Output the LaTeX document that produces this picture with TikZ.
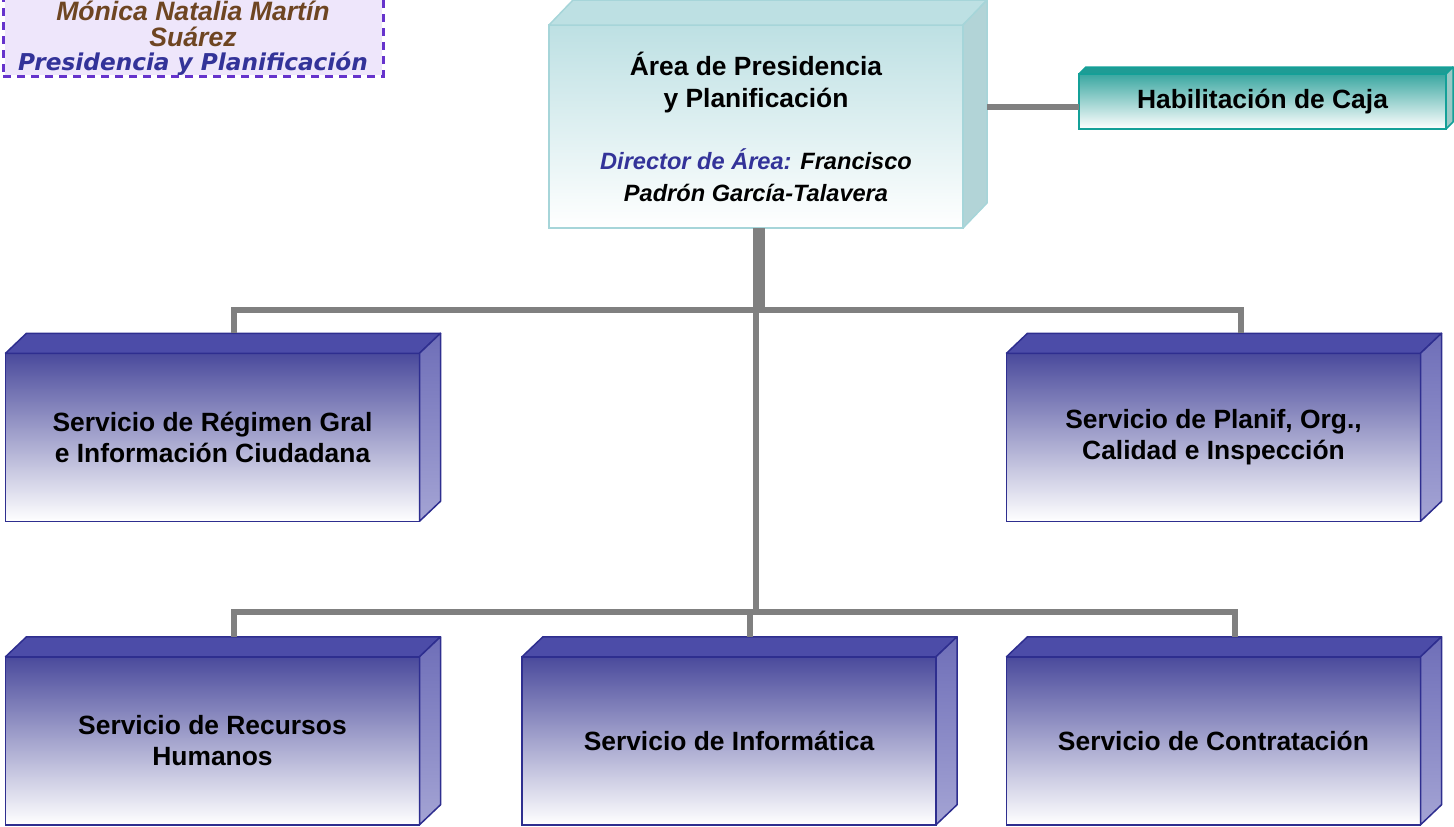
\documentclass[tikz,border=0pt]{standalone}
\usepackage{fontspec}
\setmainfont{Liberation Sans}
\newfontfamily\verdana{DejaVu Sans}
\usetikzlibrary{matrix,calc}
\definecolor{azulosc}{HTML}{4A4A9C}
\definecolor{azulbor}{HTML}{2E2E8F}
\definecolor{azultapa}{HTML}{4C4CA8}
\definecolor{azullado}{HTML}{6E6EB8}
\definecolor{azulclaro}{HTML}{A4A4D4}
\definecolor{turq}{HTML}{BDE0E3}
\definecolor{turqbor}{HTML}{A6D5D9}
\definecolor{turqlado}{HTML}{B2D4D7}
\definecolor{verde}{HTML}{3AA7A1}
\definecolor{verdebor}{HTML}{14A098}
\definecolor{verdetapa}{HTML}{1E9C95}
\definecolor{verdelado}{HTML}{9CC9C6}
\definecolor{gris}{HTML}{808080}
\definecolor{lila}{HTML}{EEE6FB}
\definecolor{morado}{HTML}{6633CC}
\definecolor{marron}{HTML}{6E4522}
\definecolor{azultxt}{HTML}{333399}
\newcommand{\caras}[4]{%
  \filldraw[#3] (#1.north west) -- ++(#2) -- ([shift={(#2)}]#1.north east) -- (#1.north east) -- cycle;
  \filldraw[#4] (#1.north east) -- ++(#2) -- ([shift={(#2)}]#1.south east) -- (#1.south east) -- cycle;}
\tikzset{
  servicio/.style={top color=azulosc, bottom color=white, draw=azulbor, line width=.75pt,
    minimum width=207pt, minimum height=84pt, inner sep=0pt, outer sep=0pt, align=center,
    font=\bfseries\fontsize{13.2}{15.5}\selectfont},
  tapaazul/.style={fill=azultapa, draw=azulbor, line width=.75pt, line join=round},
  ladoazul/.style={top color=azullado, bottom color=azulclaro, draw=azulbor, line width=.75pt, line join=round},
  alta/.style={top color=turq, bottom color=white, draw=turqbor, line width=.75pt,
    minimum width=207pt, minimum height=101.5pt, inner sep=0pt, outer sep=0pt, align=center,
    font=\bfseries\fontsize{13.2}{16}\selectfont},
  tapaturq/.style={fill=turq, draw=turqbor, line width=.75pt, line join=round},
  ladoturq/.style={fill=turqlado, draw=turqbor, line width=.75pt, line join=round},
  caja/.style={top color=verde, bottom color=white, draw=verdebor, line width=.75pt,
    minimum width=183.5pt, minimum height=27.5pt, inner sep=0pt, outer sep=0pt,
    font=\bfseries\fontsize{13.2}{16}\selectfont},
  tapaverde/.style={fill=verdetapa, draw=verdebor, line width=.75pt, line join=round},
  ladoverde/.style={fill=verdelado, draw=verdebor, line width=.75pt, line join=round},
  tarjeta/.style={fill=lila, draw=white, line width=1.5pt, postaction={draw=morado, dash pattern=on 4pt off 3pt},
    minimum width=190pt, inner xsep=0pt, inner ysep=0pt, outer sep=0pt, align=center,
    font=\bfseries\itshape\fontsize{13.3}{13.2}\selectfont},
  linea/.style={draw=gris, line width=3pt}
}
\begin{document}
\begin{tikzpicture}[x=0.5pt, y=-0.5pt]
\useasboundingbox (0,0) rectangle (1454,826);
\node [tarjeta, anchor=south] (tarjeta) at (193,76) {\rule{0pt}{30pt}\color{marron}Mónica Natalia Martín\\ \color{marron}Suárez\\[-1pt]
  \verdana\fontsize{11.6}{13}\selectfont\color{azultxt}Presidencia y Planificación};
\node [alta] (area) at (756,126.5) {Área de Presidencia\\ y Planificación\\[15pt]
  \itshape\fontsize{11.8}{13.5}\selectfont{\color{azultxt}Director de Área:} Francisco\\
  \itshape\fontsize{11.8}{13.5}\selectfont Padrón García-Talavera};
\node [caja] (caja) at (1262.5,101.5) {Habilitación de Caja};
\matrix [ampersand replacement=\&, column sep=34.5pt, row sep=67pt, inner sep=0pt] at (713,589) {
  \node [servicio] (S1) {Servicio de Régimen Gral\\ e Información Ciudadana}; \&[16pt] \& \node [servicio] (S2) {Servicio de Planif, Org.,\\ Calidad e Inspección}; \\
  \node [servicio] (S3) {Servicio de Recursos\\ Humanos}; \& \node [servicio] (S4) {Servicio de Informática}; \& \node [servicio] (S5) {Servicio de Contratación}; \\
};
\caras{area}{24,-25}{tapaturq}{ladoturq}
\caras{caja}{7,-7}{tapaverde}{ladoverde}
\caras{S1}{21,-20}{tapaazul}{ladoazul}
\caras{S2}{21,-20}{tapaazul}{ladoazul}
\caras{S3}{21,-20}{tapaazul}{ladoazul}
\caras{S4}{21,-20}{tapaazul}{ladoazul}
\caras{S5}{21,-20}{tapaazul}{ladoazul}
\draw [linea] ([shift={(24,-20)}]area.east) -- ([yshift=-2.5pt]caja.west);
\draw [linea] ([xshift=3pt]area.south) -- ++(0,82) -| ([shift={(21,-20)}]S1.north);
\draw [linea] ([xshift=3pt]area.south) -- ++(0,82) -| ([shift={(27,-20)}]S2.north);
\draw [linea] (area.south) -- ++(0,384) -| ([shift={(21,-20)}]S3.north);
\draw [linea] (area.south) -- ++(0,384) -| ([shift={(21,-20)}]S4.north);
\draw [linea] (area.south) -- ++(0,384) -| ([shift={(21,-20)}]S5.north);
\end{tikzpicture}
\end{document}
